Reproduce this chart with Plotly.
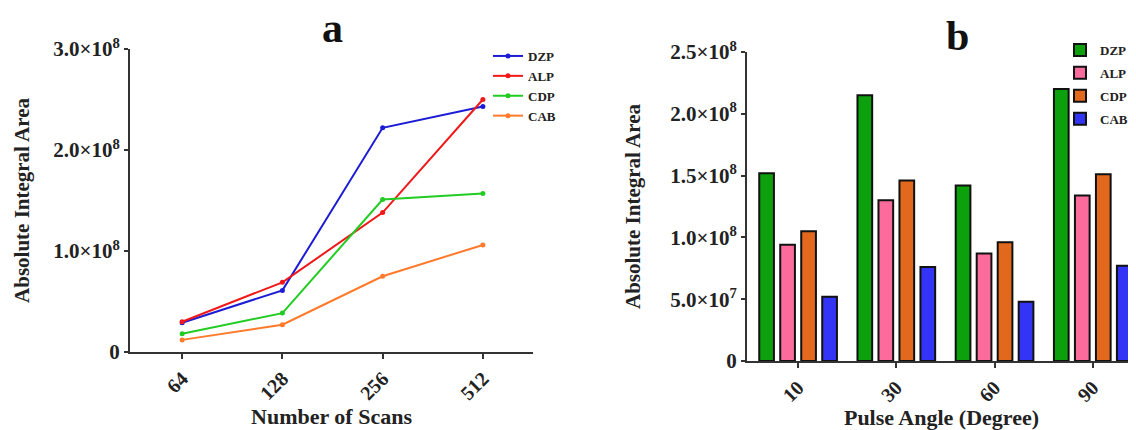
import plotly.graph_objects as go

# ---------- data: panel a ----------
scans = ["64", "128", "256", "512"]
dzp_a = [0.29e8, 0.61e8, 2.22e8, 2.43e8]
alp_a = [0.30e8, 0.69e8, 1.38e8, 2.50e8]
cdp_a = [0.18e8, 0.385e8, 1.51e8, 1.57e8]
cab_a = [0.12e8, 0.27e8, 0.75e8, 1.06e8]

# ---------- data: panel b ----------
angles = ["10", "30", "60", "90"]
dzp_b = [1.52e8, 2.15e8, 1.42e8, 2.20e8]
alp_b = [0.94e8, 1.30e8, 0.87e8, 1.34e8]
cdp_b = [1.05e8, 1.46e8, 0.96e8, 1.51e8]
cab_b = [0.52e8, 0.76e8, 0.48e8, 0.77e8]

ticks_a = [0, 1e8, 2e8, 3e8]
ticklabels_a = ["0", "1.0×10<sup>8</sup>", "2.0×10<sup>8</sup>", "3.0×10<sup>8</sup>"]
ticks_b = [0, 0.5e8, 1.0e8, 1.5e8, 2.0e8, 2.5e8]
ticklabels_b = ["0", "5.0×10<sup>7</sup>", "1.0×10<sup>8</sup>", "1.5×10<sup>8</sup>",
                "2.0×10<sup>8</sup>", "2.5×10<sup>8</sup>"]

FONT = "Liberation Serif"
# page has an 8px body margin; figure is sized to fit the 1136x430 window
OFF = 8
W, H = 1136 - OFF, 430 - OFF


def px(x):
    return (x - OFF) / W


def py(y):
    return 1 - (y - OFF) / H


fig = go.Figure()

line_series = [("DZP", dzp_a, "#1c1cd6"), ("ALP", alp_a, "#f01818"),
               ("CDP", cdp_a, "#22cc22"), ("CAB", cab_a, "#ff7a2a")]
for name, vals, col in line_series:
    fig.add_trace(go.Scatter(
        x=scans, y=vals, name=name, mode="lines+markers",
        line=dict(color=col, width=2), marker=dict(color=col, size=5),
        xaxis="x", yaxis="y", legend="legend", legendgroup="a" + name,
    ))

bar_series = [("DZP", dzp_b, "#0ca00c"), ("ALP", alp_b, "#fb6b9c"),
              ("CDP", cdp_b, "#e2681e"), ("CAB", cab_b, "#3434f6")]
for name, vals, col in bar_series:
    fig.add_trace(go.Bar(
        x=angles, y=vals, name=name,
        marker=dict(color=col, line=dict(color="#111111", width=2)),
        xaxis="x2", yaxis="y2", legend="legend2", legendgroup="b" + name,
    ))

axis_common = dict(showline=True, linecolor="#333333", linewidth=2,
                   showgrid=False, zeroline=False, ticks="outside",
                   tickcolor="#333333", tickwidth=2)

XTICKF = dict(family=FONT, size=20, weight="bold", color="#222222")
YTICKF = dict(family=FONT, size=21, weight="bold", color="#222222")
XTF = dict(family=FONT, size=22, weight="bold", color="#222222")
YTF = dict(family=FONT, size=21, weight="bold", color="#222222")

fig.update_layout(
    width=W, height=H,
    margin=dict(l=0, r=0, t=0, b=0, autoexpand=False),
    paper_bgcolor="white", plot_bgcolor="white",
    font=dict(family=FONT, color="#222222", weight="bold"),
    barmode="group", bargap=0.145, bargroupgap=0.3,
    showlegend=True,
    xaxis=dict(domain=[px(130), px(533)], range=[-0.52, 3.5],
               tickangle=-45, ticklen=5, tickfont=XTICKF,
               title=dict(text="Number of Scans", standoff=3, font=XTF),
               anchor="y", **axis_common),
    yaxis=dict(domain=[py(352), py(49)], range=[0, 3e8],
               tickvals=ticks_a, ticktext=ticklabels_a, ticklen=4, tickfont=YTICKF,
               title=dict(text="Absolute Integral Area", standoff=18, font=YTF),
               anchor="x", **axis_common),
    xaxis2=dict(domain=[px(747), 1.0], range=[-0.52, 3.44],
                tickangle=-45, ticklen=5, tickfont=XTICKF,
                title=dict(text="Pulse Angle (Degree)", standoff=3, font=XTF),
                anchor="y2", **axis_common),
    yaxis2=dict(domain=[py(361), py(52)], range=[0, 2.5e8],
                tickvals=ticks_b, ticktext=ticklabels_b, ticklen=4, tickfont=YTICKF,
                title=dict(text="Absolute Integral Area", standoff=24, font=YTF),
                anchor="x2", **axis_common),
    legend=dict(x=px(488), y=py(41), xanchor="left", yanchor="top",
                font=dict(family=FONT, size=13, weight="bold"),
                bgcolor="rgba(0,0,0,0)", tracegroupgap=0, itemwidth=30),
    legend2=dict(x=px(1060), y=py(35), xanchor="left", yanchor="top",
                 font=dict(family=FONT, size=13, weight="bold"),
                 bgcolor="rgba(0,0,0,0)", tracegroupgap=3, itemwidth=30),
    annotations=[
        dict(text="a", x=px(332), y=py(28), xref="paper", yref="paper",
             xanchor="center", yanchor="middle",
             showarrow=False, font=dict(family=FONT, size=42, weight="bold", color="#111111")),
        dict(text="b", x=px(957), y=py(36), xref="paper", yref="paper",
             xanchor="center", yanchor="middle",
             showarrow=False, font=dict(family=FONT, size=42, weight="bold", color="#111111")),
    ],
)

fig.write_html("out.html")
